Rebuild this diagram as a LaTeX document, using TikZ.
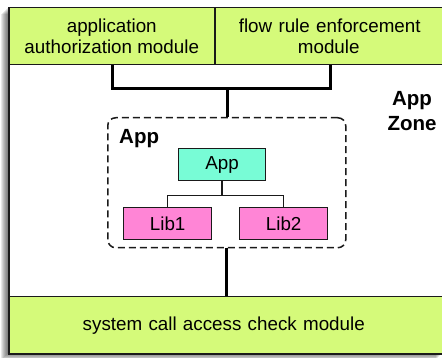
\documentclass[tikz,border=0pt]{standalone}
\usepackage{fontspec}
\setmainfont{Liberation Sans}
\definecolor{modgreen}{HTML}{D5FA7A}
\definecolor{appcyan}{HTML}{78FCD6}
\definecolor{libpink}{HTML}{FF85D6}
\definecolor{frame}{HTML}{1A1A1A}
\begin{document}
\begin{tikzpicture}[x=1pt,y=-1pt,
  txt/.style={font=\fontsize{18.8}{21.5}\selectfont, align=center, text=black},
  modbox/.style={txt, draw=frame, line width=1.5pt, fill=modgreen, inner sep=0pt, anchor=north west},
  leaf/.style={txt, draw=frame, line width=1.3pt, inner sep=0pt, anchor=north west, minimum width=87pt, minimum height=32pt},
  bigconn/.style={line width=3pt, draw=black},
  smallconn/.style={line width=1.5pt, draw=frame},
  bold/.style={font=\fontsize{20.5}{25}\selectfont\bfseries, align=center}]
\useasboundingbox (0,0) rectangle (442,358);
\clip (0,0) rectangle (442,358);
% shadow
\foreach \i in {1,...,7}
  \fill[black, opacity=0.09] (8-\i,7+\i) rectangle (443-\i,353+\i);
% outer zone
\node[draw=frame, line width=1.8pt, fill=white, anchor=north west, minimum width=436pt, minimum height=346pt, inner sep=0pt] (zone) at (8,7) {};
% top modules
\node[modbox, minimum width=206pt, minimum height=57pt] (auth) at (8,7) {application\\authorization module};
\node[modbox, minimum width=230pt, minimum height=57pt, text width=228pt] (flow) at (214,7) {flow rule enforcement\\module\hspace*{2pt}};
% bottom module
\node[modbox, minimum width=436pt, minimum height=57pt, text width=434pt] (sys) at (8,296) {system call access check module\hspace*{6pt}};
% zone label
\node[bold] (zonelbl) at (412,111) {App\\Zone};
% dashed app box
\node[draw=frame, line width=1.5pt, dash pattern=on 7pt off 4pt, rounded corners=8pt, anchor=north west,
  minimum width=238pt, minimum height=130pt, inner sep=0pt] (dash) at (107,117) {};
\node[bold, anchor=north west, inner sep=0pt] (applbl) at (119,129) {App};
% app tree
\node[leaf, fill=appcyan] (app) at (178,148) {App};
\node[leaf, fill=libpink, minimum width=88pt] (lib1) at (123,207) {Lib1};
\node[leaf, fill=libpink, minimum width=88pt] (lib2) at (239,207) {Lib2};
\draw[smallconn] (app.south) -- ++(0,14) coordinate (tj) -| (lib1.north);
\draw[smallconn] (tj) -| (lib2.north);
% connectors
\coordinate (j) at (227,89);
\draw[bigconn] (auth.south -| 112,0) |- (j) -| (flow.south -| 330,0);
\draw[bigconn] (j) -- (j |- dash.north);
\draw[bigconn] (dash.south -| 226,0) -- (sys.north -| 226,0);
\end{tikzpicture}
\end{document}
